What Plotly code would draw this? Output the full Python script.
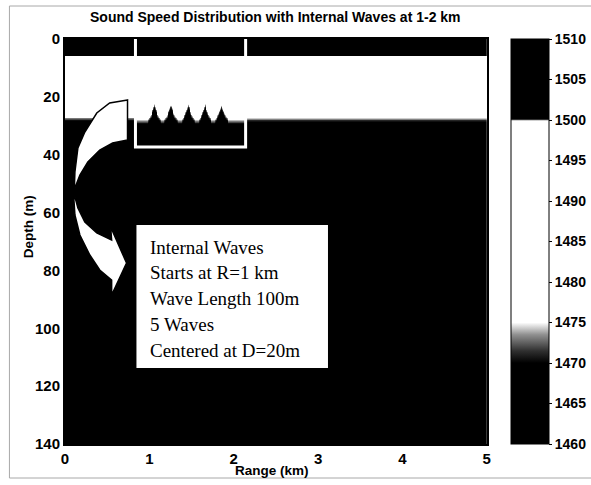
import numpy as np
import plotly.graph_objects as go

# ---- data ----
profile_depth_m = [0, 3, 5.8, 6.5, 10, 15, 20, 24, 26, 27, 27.5, 28, 28.6, 30, 35, 40, 60, 80, 100, 120, 140]
profile_speed = [1507, 1503.5, 1500.1, 1499.3, 1496, 1491, 1486, 1481, 1478, 1475.2, 1473, 1471,
                 1469.5, 1468.5, 1467.5, 1467, 1465.5, 1464.5, 1463.5, 1462.5, 1461.5]

iface_range_km = [0.0, 0.84, 0.86, 0.98, 1.02, 1.059, 1.10, 1.14, 1.17, 1.215, 1.255, 1.295, 1.34,
                  1.38, 1.42, 1.462, 1.50, 1.54, 1.58, 1.62, 1.659, 1.70, 1.74, 1.77, 1.815, 1.855,
                  1.895, 1.94, 2.13, 2.15, 5.0]
iface_depth_m = [27.0, 27.0, 28.0, 28.0, 26.0, 22.5, 26.0, 28.0, 28.0, 26.0, 22.5, 26.0, 28.0,
                 28.0, 26.0, 22.5, 26.0, 28.0, 28.0, 26.0, 22.5, 26.0, 28.0, 28.0, 26.0, 22.5,
                 26.0, 28.0, 28.0, 27.3, 27.3]
iface_ref_depth = 27.0

x_ticks = [0, 1, 2, 3, 4, 5]
y_ticks = [0, 20, 40, 60, 80, 100, 120, 140]
cbar_ticks = [1460, 1465, 1470, 1475, 1480, 1485, 1490, 1495, 1500, 1505, 1510]

info_lines = ["Internal Waves", "Starts at R=1 km", "Wave Length 100m", "5 Waves", "Centered at D=20m"]

# ---- build field table ----
rng = np.linspace(0, 5, 501)
dep = np.linspace(0, 140, 561)
iface = np.interp(rng, iface_range_km, iface_depth_m)
shift = iface - iface_ref_depth
D, S = np.meshgrid(dep, shift, indexing="ij")
eff = np.where(D >= 14, D - S, D)
Z = np.interp(eff, profile_depth_m, profile_speed).astype(np.float32)

cs = [[0, "#000000"], [0.2, "#000000"], [0.23, "#303030"], [0.27, "#909090"], [0.3, "#ffffff"],
      [0.798, "#ffffff"], [0.802, "#000000"], [1, "#000000"]]

SANS = "Liberation Sans, Arial, sans-serif"
SERIF = "Liberation Serif, Times New Roman, DejaVu Serif, serif"

fig = go.Figure(go.Heatmap(
    x=rng, y=dep, z=Z, zmin=1460, zmax=1510, colorscale=cs,
    colorbar=dict(x=(514 - 65) / 526, xanchor="left", xpad=0, ypad=0, thickness=38,
                  len=1.0, y=0.5, yanchor="middle", outlinewidth=1, outlinecolor="black",
                  tickvals=cbar_ticks, ticks="outside", ticklen=3, tickcolor="black",
                  tickfont=dict(family=SANS, size=14, color="black", weight="bold"))
))

W, H = 591, 485
ml, mr, mt, mb = 65, 0, 39, 41
pw = W - ml - mr
ph = H - mt - mb


def px2x(px):
    return (px - 65) / 85.0


def py2y(py):
    return (py - 39) / 2.893


fig.update_layout(
    width=W, height=H, margin=dict(l=ml, r=mr, t=mt, b=mb),
    paper_bgcolor="white", plot_bgcolor="white", showlegend=False,
    xaxis=dict(domain=[0, 425 / pw], range=[0, 5], tickvals=x_ticks, ticks="", showgrid=False,
               zeroline=False, showline=True, linecolor="black", linewidth=2, mirror=True,
               tickfont=dict(family=SANS, size=15, color="black", weight="bold")),
    yaxis=dict(range=[140, 0], tickvals=y_ticks, ticks="", showgrid=False, zeroline=False,
               showline=True, linecolor="black", linewidth=2, mirror=True,
               tickfont=dict(family=SANS, size=15, color="black", weight="bold")),
)

shapes = []
# scan frame
shapes.append(dict(type="rect", xref="paper", yref="paper",
                   x0=(9 - ml) / pw, x1=(600 - ml) / pw,
                   y0=(H - mb - 478) / ph, y1=(H - mb - 6) / ph,
                   line=dict(color="#a8a8a8", width=1), fillcolor="rgba(0,0,0,0)", layer="below"))
# white outline around internal-wave region
bx0, bx1, by = px2x(136), px2x(247), py2y(147)
shapes.append(dict(type="path", xref="x", yref="y",
                   path=f"M {bx0},0 L {bx0},{by} L {bx1},{by} L {bx1},0",
                   line=dict(color="white", width=3)))
# curved arrow
arrow_px = [(128, 100), (110, 103), (97, 113), (85, 132), (78, 148), (75, 172), (74, 200),
            (75, 215), (80, 235), (90, 255), (100, 270), (112, 280), (112, 295), (127, 263),
            (111, 227), (112, 240), (97, 233), (85, 222), (78, 208), (75, 197), (75, 188),
            (80, 175), (88, 162), (100, 150), (113, 143), (128, 140)]
p = "M " + " L ".join(f"{px2x(a):.4f},{py2y(b):.3f}" for a, b in arrow_px) + " Z"
shapes.append(dict(type="path", xref="x", yref="y", path=p, fillcolor="white",
                   line=dict(color="black", width=1.5)))
# info box
shapes.append(dict(type="rect", xref="x", yref="y", x0=px2x(137), x1=px2x(330),
                   y0=py2y(225), y1=py2y(368), fillcolor="white", line=dict(width=0)))
fig.update_layout(shapes=shapes)

ann = []
line_py = [248, 273, 299, 325, 351]
for t, ly in zip(info_lines, line_py):
    ann.append(dict(x=px2x(149), y=py2y(ly), xref="x", yref="y", text=t, showarrow=False,
                    xanchor="left", yanchor="middle",
                    font=dict(family=SERIF, size=19, color="black")))
ann.append(dict(x=(277 - ml) / pw, y=(H - mb - 17) / ph, xref="paper", yref="paper",
                text="<b>Sound Speed Distribution with Internal Waves at 1-2 km</b>",
                showarrow=False, xanchor="center", yanchor="middle",
                font=dict(family=SANS, size=14, color="black")))
ann.append(dict(x=(274 - ml) / pw, y=(H - mb - 470) / ph, xref="paper", yref="paper",
                text="<b>Range (km)</b>", showarrow=False, xanchor="center", yanchor="middle",
                font=dict(family=SANS, size=13.5, color="black")))
ann.append(dict(x=(28 - ml) / pw, y=(H - mb - 227) / ph, xref="paper", yref="paper",
                text="<b>Depth (m)</b>", showarrow=False, textangle=-90, xanchor="center",
                yanchor="middle", font=dict(family=SANS, size=13.5, color="black")))
fig.update_layout(annotations=ann)

fig.write_html("out.html")
